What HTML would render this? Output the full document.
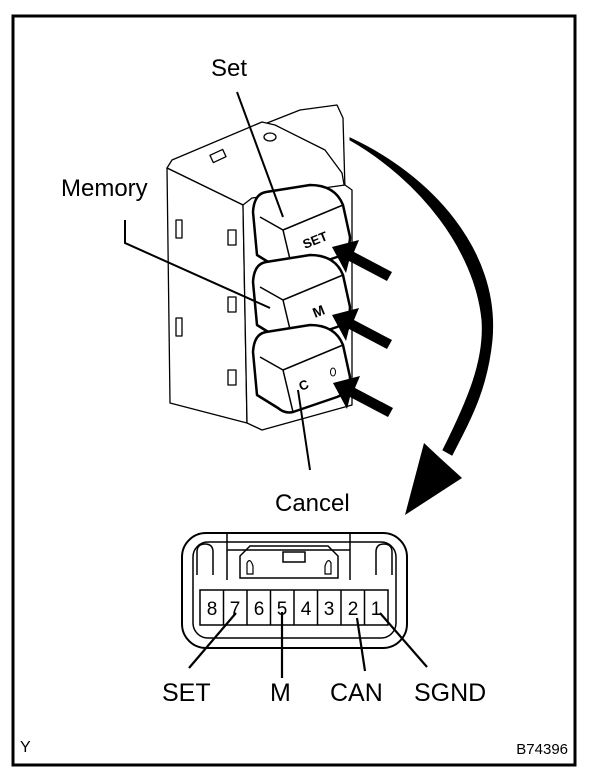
<!DOCTYPE html>
<html><head><meta charset="utf-8"><style>
html,body{margin:0;padding:0;background:#fff;}
svg{display:block;}
text{font-family:"Liberation Sans",Arial,sans-serif;fill:#000;}
</style></head><body>
<svg width="608" height="778" viewBox="0 0 608 778" xmlns="http://www.w3.org/2000/svg">
<rect x="13" y="16" width="562" height="749" fill="none" stroke="#000" stroke-width="3"/>

<text x="211" y="76" font-size="24">Set</text>
<text x="61" y="196" font-size="24">Memory</text>
<text x="275" y="511" font-size="24">Cancel</text>

<!-- switch body -->
<g stroke="#000" stroke-width="1.3" fill="#fff" stroke-linejoin="round">
<polygon points="262,125 300,110 337,105 343,118 345,190 340,195 310,150 270,140"/>
<polygon points="167,168 172,160 262,122 275,125 325,150 342,173 345,190 252,203 243,205"/>
<polygon points="167,168 243,205 247,423 170,403"/>
<polygon points="243,205 252,198 345,185 352,190 352,405 262,430 247,423"/>
<rect x="211" y="152" width="14" height="8" transform="rotate(-25 218 156)"/>
<ellipse cx="270" cy="137" rx="6" ry="4"/>
<rect x="176" y="220" width="6" height="18"/>
<rect x="176" y="318" width="6" height="18"/>
<rect x="228" y="230" width="8" height="15"/>
<rect x="228" y="297" width="8" height="15"/>
<rect x="228" y="370" width="8" height="15"/>
</g>

<!-- buttons -->
<g stroke="#000" stroke-width="1.5" fill="#fff" stroke-linejoin="round">
<g>
<path d="M253,212 Q254,194 266,192 L310,185 Q335,185 343,205 L350,237 Q350,252 337,257 L293,272 Q285,274 278,268 L257,255 Z" stroke-width="2.5"/>
<line x1="260" y1="217" x2="283" y2="230"/>
<line x1="283" y1="230" x2="343" y2="205"/>
<line x1="283" y1="230" x2="293" y2="272"/>
</g>
<g transform="translate(0,70)">
<path d="M253,212 Q254,194 266,192 L310,185 Q335,185 343,205 L350,237 Q350,252 337,257 L293,272 Q285,274 278,268 L257,255 Z" stroke-width="2.5"/>
<line x1="260" y1="217" x2="283" y2="230"/>
<line x1="283" y1="230" x2="343" y2="205"/>
<line x1="283" y1="230" x2="293" y2="272"/>
</g>
<g transform="translate(0,140)">
<path d="M253,212 Q254,194 266,192 L310,185 Q335,185 343,205 L350,237 Q350,252 337,257 L293,272 Q285,274 278,268 L257,255 Z" stroke-width="2.5"/>
<line x1="260" y1="217" x2="283" y2="230"/>
<line x1="283" y1="230" x2="343" y2="205"/>
<line x1="283" y1="230" x2="293" y2="272"/>
</g>
</g>
<text x="0" y="0" font-size="13" font-weight="bold" transform="translate(305,249) rotate(-22)">SET</text>
<text x="0" y="0" font-size="14" font-weight="bold" transform="translate(315,318) rotate(-22)">M</text>
<text x="0" y="0" font-size="13" font-weight="bold" transform="translate(301,391) rotate(-22)">C</text>
<ellipse cx="333" cy="372" rx="2.5" ry="4" fill="none" stroke="#000"/>

<!-- leaders (on top) -->
<g stroke="#000" stroke-width="2" fill="none">
<line x1="237" y1="92" x2="283" y2="217"/>
<polyline points="125,220 125,243 270,308"/>
<line x1="298" y1="390" x2="310" y2="470"/>
</g>

<!-- push arrows -->
<g fill="#000">
<polygon points="332,247 359,240 354,252 392,272 387,281 349,261 346,273"/>
<polygon points="332,315 359,308 354,320 392,340 387,349 349,329 346,341"/>
<polygon points="333,383 360,376 355,388 393,408 388,417 350,397 347,409"/>
</g>

<!-- big curved arrow -->
<path d="M350,138 C430,175 500,250 492,340 C487,390 470,420 452,455 L443,450 C468,400 485,360 482,320 C475,250 420,180 350,140 Z" fill="#000" stroke="#000" stroke-width="1"/>
<polygon points="405,515 424,443 440,458 462,478" fill="#000"/>

<!-- connector -->
<g stroke="#000" stroke-width="2" fill="none">
<rect x="182" y="533" width="225" height="115" rx="24"/>
<rect x="193" y="542" width="203" height="96" rx="15" stroke-width="1.5"/>
<path d="M197,575 L197,552 Q197,544 205,544 Q213,544 213,552 L213,575" stroke-width="1.5"/>
<path d="M376,575 L376,552 Q376,544 384,544 Q392,544 392,552 L392,575" stroke-width="1.5"/>
<line x1="227" y1="533" x2="227" y2="580" stroke-width="1.5"/>
<line x1="350" y1="533" x2="350" y2="580" stroke-width="1.5"/>
<line x1="227" y1="550" x2="350" y2="550" stroke-width="1.5"/>
<path d="M240,578 L240,556 L250,546 L328,546 L338,556 L338,578 Z" stroke-width="1.5"/>
<rect x="283" y="552" width="22" height="10" stroke-width="1.5"/>
<path d="M247,574 L247,563 Q250,557 253,566 L253,574 Z" stroke-width="1.2"/>
<path d="M331,574 L331,563 Q328,557 325,566 L325,574 Z" stroke-width="1.2"/>
<rect x="200" y="590" width="188" height="35" stroke-width="1.5"/>
<g stroke-width="1.5">
<line x1="223.5" y1="590" x2="223.5" y2="625"/>
<line x1="247" y1="590" x2="247" y2="625"/>
<line x1="270.5" y1="590" x2="270.5" y2="625"/>
<line x1="294" y1="590" x2="294" y2="625"/>
<line x1="317.5" y1="590" x2="317.5" y2="625"/>
<line x1="341" y1="590" x2="341" y2="625"/>
<line x1="364.5" y1="590" x2="364.5" y2="625"/>
</g>
</g>
<g font-size="19" text-anchor="middle">
<text x="212" y="615">8</text><text x="235" y="615">7</text><text x="259" y="615">6</text><text x="282" y="615">5</text>
<text x="306" y="615">4</text><text x="329" y="615">3</text><text x="353" y="615">2</text><text x="376" y="615">1</text>
</g>
<g stroke="#000" stroke-width="2.2" fill="none">
<line x1="236" y1="613" x2="189" y2="668"/>
<line x1="282" y1="612" x2="282" y2="678"/>
<line x1="357" y1="618" x2="365" y2="671"/>
<line x1="380" y1="613" x2="427" y2="667"/>
</g>
<g font-size="25">
<text x="162" y="701">SET</text>
<text x="270" y="701">M</text>
<text x="330" y="701">CAN</text>
<text x="414" y="701">SGND</text>
</g>
<text x="20" y="752" font-size="16">Y</text>
<text x="568" y="754" font-size="15" text-anchor="end">B74396</text>
</svg>
</body></html>
